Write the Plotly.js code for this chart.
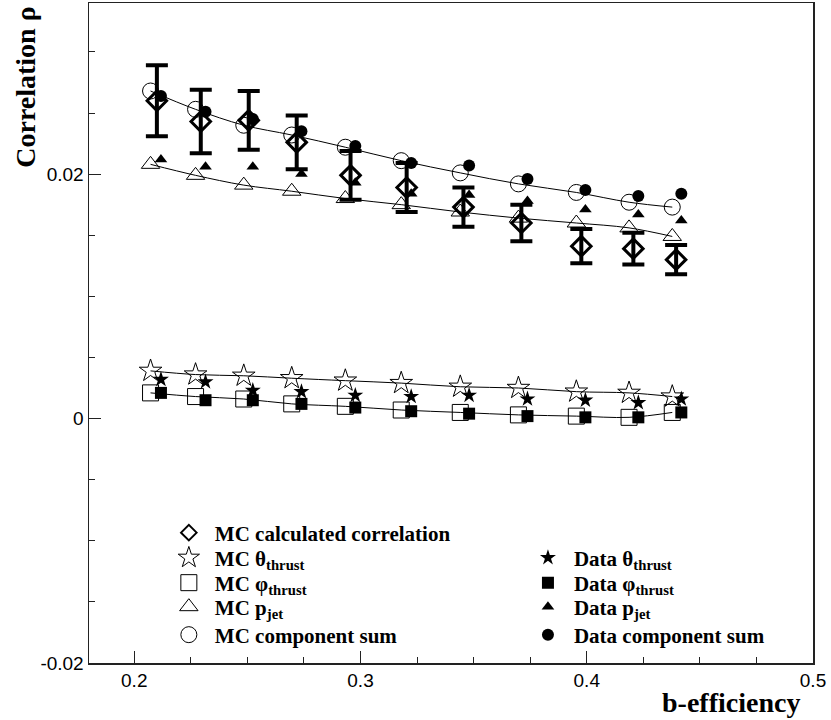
<!DOCTYPE html>
<html>
<head>
<meta charset="utf-8">
<script src="https://cdn.plot.ly/plotly-3.0.1.min.js"></script>
<style>html,body{margin:0;padding:0;background:#fff;}#chart{width:831px;height:720px;}</style>
</head>
<body>
<div id="chart"></div>
<script>
// b-efficiency positions (MC points drawn slightly left, data slightly right)
var effMC   = [0.2072,0.2271,0.2484,0.2696,0.2933,0.3180,0.3441,0.3698,0.3954,0.4187,0.4378];
var effCalc = [0.2100,0.2294,0.2506,0.2718,0.2956,0.3204,0.3455,0.3711,0.3976,0.4206,0.4395];
var effData = [0.2118,0.2315,0.2524,0.2739,0.2977,0.3224,0.3480,0.3738,0.3994,0.4228,0.4418];

var mcCalc    = [0.0260,0.0243,0.0244,0.0226,0.0199,0.0189,0.0173,0.0160,0.0141,0.0139,0.0130];
var mcCalcErr = [0.0029,0.0026,0.0024,0.0022,0.0020,0.0020,0.0016,0.0015,0.0014,0.0013,0.0012];
var mcSum     = [0.0268,0.0253,0.0240,0.0232,0.0222,0.0211,0.0201,0.0192,0.0185,0.0177,0.0173];
var dataSum   = [0.0264,0.0251,0.0245,0.0235,0.0223,0.0209,0.0207,0.0196,0.0187,0.0182,0.0184];
var mcPjet    = [0.0208,0.0199,0.0191,0.0186,0.0180,0.0175,0.0169,0.0164,0.0160,0.0156,0.0149];
var dataPjet  = [0.0212,0.0206,0.0206,0.0200,0.0193,0.0184,0.0183,0.0178,0.0171,0.0167,0.0162];
var mcTheta   = [0.0039,0.0036,0.0035,0.0033,0.0031,0.0029,0.0026,0.0025,0.0022,0.0021,0.0018];
var dataTheta = [0.0032,0.0030,0.0023,0.0022,0.0019,0.0018,0.0019,0.0016,0.0015,0.0013,0.0016];
var mcPhi     = [0.0021,0.0018,0.0016,0.0012,0.0010,0.0007,0.0005,0.0003,0.0002,0.0001,0.0005];
var dataPhi   = [0.0021,0.0015,0.0015,0.0012,0.0009,0.0006,0.0004,0.0002,0.0001,0.0001,0.0005];

var xTicks = [0.2,0.3,0.4,0.5];
var xTickText = ['0.2','0.3','0.4','0.5'];
var yTicks = [-0.02,0,0.02];
var yTickText = ['-0.02','0','0.02'];

var legendNames = ['MC calculated correlation','MC θ<sub>thrust</sub>','MC φ<sub>thrust</sub>','MC p<sub>jet</sub>','MC component sum',
                   'Data θ<sub>thrust</sub>','Data φ<sub>thrust</sub>','Data p<sub>jet</sub>','Data component sum'];

var K = '#000';
function fitLine(y){
  return {x:effMC, y:y, mode:'lines', type:'scatter', line:{color:K,width:1,shape:'spline'},
          showlegend:false, hoverinfo:'skip'};
}
function mk(x,y,i,sym,size,lw){
  return {x:x, y:y, mode:'markers', type:'scatter', name:'<b>'+legendNames[i]+'</b>',
          legend:(i===0?'legend':'legend'+(i+1)),
          marker:{symbol:sym,size:size,color:K,line:{color:K,width:lw}}};
}

var calc = mk(effCalc,mcCalc,0,'diamond-open',15,3);
calc.error_y = {type:'data',array:mcCalcErr,visible:true,color:K,thickness:4,width:11};

var traces = [
  fitLine(mcSum), fitLine(mcPjet), fitLine(mcTheta), fitLine(mcPhi),
  calc,
  mk(effMC,mcTheta,1,'star-open',17,1),
  mk(effMC,mcPhi,2,'square-open',16,1),
  mk(effMC,mcPjet,3,'triangle-up-open',16,1),
  mk(effMC,mcSum,4,'circle-open',16,1),
  mk(effData,dataTheta,5,'star',12,0),
  mk(effData,dataPhi,6,'square',12,0),
  mk(effData,dataPjet,7,'triangle-up',11,0),
  mk(effData,dataSum,8,'circle',12,0)
];

var serif = 'Liberation Serif, Times New Roman, serif';
var sans = 'Liberation Sans, Arial, sans-serif';
var legFont = {family:serif,size:21,color:K};

var layout = {
  width:831, height:720,
  margin:{l:89,r:18,t:3,b:57},
  paper_bgcolor:'#fff', plot_bgcolor:'#fff',
  showlegend:true,
  xaxis:{range:[0.18,0.5], showgrid:false, zeroline:false, showline:true, linecolor:'#222', linewidth:1.5,
         mirror:true, ticks:'inside', ticklen:12, tickcolor:'#222', tickwidth:1,
         tickvals:xTicks, ticktext:xTickText, tickfont:{family:sans,size:19,color:K},
         minor:{dtick:0.025, ticklen:6, ticks:'inside', tickcolor:'#222'}},
  yaxis:{range:[-0.02,0.034], showgrid:false, zeroline:false, showline:true, linecolor:'#222', linewidth:1.5,
         mirror:true, ticks:'inside', ticklen:12, tickcolor:'#222', tickwidth:1,
         tickvals:yTicks, ticktext:yTickText, tickfont:{family:sans,size:19,color:K},
         minor:{dtick:0.005, ticklen:6, ticks:'inside', tickcolor:'#222'}},
  annotations:[
    {text:'<b>Correlation ρ</b>', xref:'paper', yref:'paper', x:-0.088, y:0.872, textangle:-90,
     showarrow:false, xanchor:'center', yanchor:'middle', font:{family:serif,size:28,color:K}},
    {text:'<b>b-efficiency</b>', xref:'paper', yref:'paper', x:0.984, y:-0.06, borderpad:0,
     showarrow:false, xanchor:'right', yanchor:'middle', font:{family:serif,size:28,color:K}}
  ]
};

// one legend box per row so the rows sit at the reference spacing
var rowY = [0.1970,0.1591,0.1212,0.0848,0.0424];
var leftX = 0.102, rightX = 0.598;
for (var i = 0; i < 9; i++) {
  var key = (i===0?'legend':'legend'+(i+1));
  var col = i < 5 ? leftX : rightX;
  var row = i < 5 ? rowY[i] : rowY[i-4];
  layout[key] = {x:col, y:row, xanchor:'left', yanchor:'middle', bgcolor:'rgba(0,0,0,0)', borderwidth:0,
                 font:legFont, itemwidth:42, itemsizing:(i===0?'constant':'trace')};
}

Plotly.newPlot('chart', traces, layout, {displayModeBar:false, staticPlot:true});
</script>
</body>
</html>
